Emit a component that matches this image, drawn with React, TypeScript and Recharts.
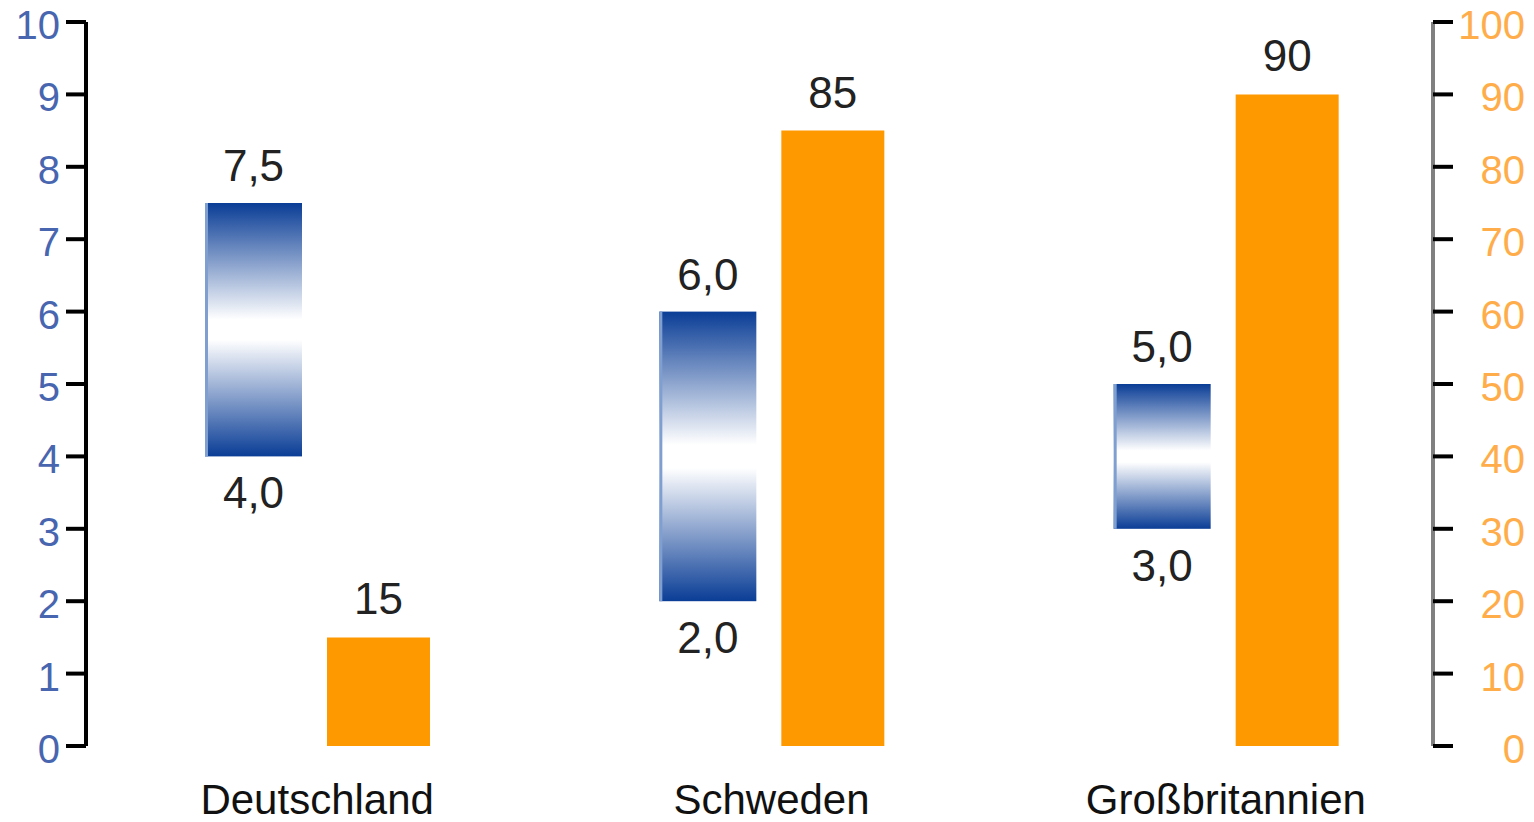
import { ComposedChart, Bar, XAxis, YAxis, LabelList } from "recharts";

const categories = ["Deutschland", "Schweden", "Großbritannien"];
const rangeLow = [4.0, 2.0, 3.0];
const rangeHigh = [7.5, 6.0, 5.0];
const shareValues = [15, 85, 90];
const leftTicks = [0, 1, 2, 3, 4, 5, 6, 7, 8, 9, 10];
const rightTicks = [0, 10, 20, 30, 40, 50, 60, 70, 80, 90, 100];

const data = categories.map((name, i) => ({
  name,
  low: rangeLow[i],
  high: rangeHigh[i],
  share: shareValues[i],
}));

const FONT = "'Liberation Sans', Arial, sans-serif";
const fmt = (v: number) => v.toFixed(1).replace(".", ",");

const LeftTick = (props: any) => (
  <text x={props.x} y={props.y} dy={17} textAnchor="end" fontFamily={FONT} fontSize={40} fill="#4866b0">
    {props.payload.value}
  </text>
);

const RightTick = (props: any) => (
  <text x={props.x + 72} y={props.y} dy={17} textAnchor="end" fontFamily={FONT} fontSize={40} fill="#ffad4a">
    {props.payload.value}
  </text>
);

const CategoryTick = (props: any) => (
  <text x={props.x} y={props.y} dy={68} textAnchor="middle" fontFamily={FONT} fontSize={42} fill="#111">
    {props.payload.value}
  </text>
);

const RangeShape = (props: any) => {
  const { x, y, width, height } = props;
  const top = Math.min(y, y + height);
  const h = Math.abs(height);
  return (
    <g>
      <rect x={x} y={top} width={width} height={h} fill="url(#blueRange)" />
      <rect x={x} y={top} width={3} height={h} fill="#7f9fd0" />
    </g>
  );
};

const RangeLabel = (props: any) => {
  const { x, y, width, height, index } = props;
  const top = Math.min(y, y + height);
  const bottom = Math.max(y, y + height);
  const cx = x + width / 2;
  return (
    <g fontFamily={FONT} fontSize={44} fill="#222" textAnchor="middle">
      <text x={cx} y={top - 22}>{fmt(rangeHigh[index])}</text>
      <text x={cx} y={bottom + 52}>{fmt(rangeLow[index])}</text>
    </g>
  );
};

const ShareLabel = (props: any) => {
  const { x, y, width, value } = props;
  return (
    <text x={x + width / 2} y={y - 23} textAnchor="middle" fontFamily={FONT} fontSize={44} fill="#222">
      {value}
    </text>
  );
};

export default function App() {
  return (
    <div style={{ position: "absolute", left: 0, top: 0, width: 1534, height: 822, background: "#fff" }}>
      <ComposedChart
        width={1534}
        height={822}
        data={data}
        margin={{ top: 22, right: 0, bottom: 0, left: 0 }}
        barGap={25}
        barCategoryGap="25%"
      >
        <defs>
          <linearGradient id="blueRange" x1="0" y1="0" x2="0" y2="1">
            <stop offset="0%" stopColor="#0a3d96" />
            <stop offset="46%" stopColor="#ffffff" />
            <stop offset="54%" stopColor="#ffffff" />
            <stop offset="100%" stopColor="#0a3d96" />
          </linearGradient>
        </defs>
        <XAxis
          dataKey="name"
          height={76}
          axisLine={false}
          tickLine={false}
          tickSize={0}
          tickMargin={0}
          padding={{ left: 4, right: -20 }}
          tick={<CategoryTick />}
          interval={0}
        />
        <YAxis
          yAxisId="left"
          orientation="left"
          width={86}
          domain={[0, 10]}
          ticks={leftTicks}
          interval={0}
          tickSize={20}
          tickMargin={6}
          axisLine={{ stroke: "#000", strokeWidth: 4 }}
          tickLine={{ stroke: "#000", strokeWidth: 4 }}
          tick={<LeftTick />}
        />
        <YAxis
          yAxisId="right"
          orientation="right"
          width={101}
          domain={[0, 100]}
          ticks={rightTicks}
          interval={0}
          tickSize={20}
          tickMargin={0}
          axisLine={{ stroke: "#808080", strokeWidth: 4 }}
          tickLine={{ stroke: "#000", strokeWidth: 4 }}
          tick={<RightTick />}
        />
        <Bar
          yAxisId="left"
          dataKey={(d: any) => [d.low, d.high]}
          barSize={97}
          shape={<RangeShape />}
          isAnimationActive={false}
        >
          <LabelList content={<RangeLabel />} />
        </Bar>
        <Bar yAxisId="right" dataKey="share" barSize={103} fill="#ff9900" isAnimationActive={false}>
          <LabelList dataKey="share" content={<ShareLabel />} />
        </Bar>
      </ComposedChart>
    </div>
  );
}
